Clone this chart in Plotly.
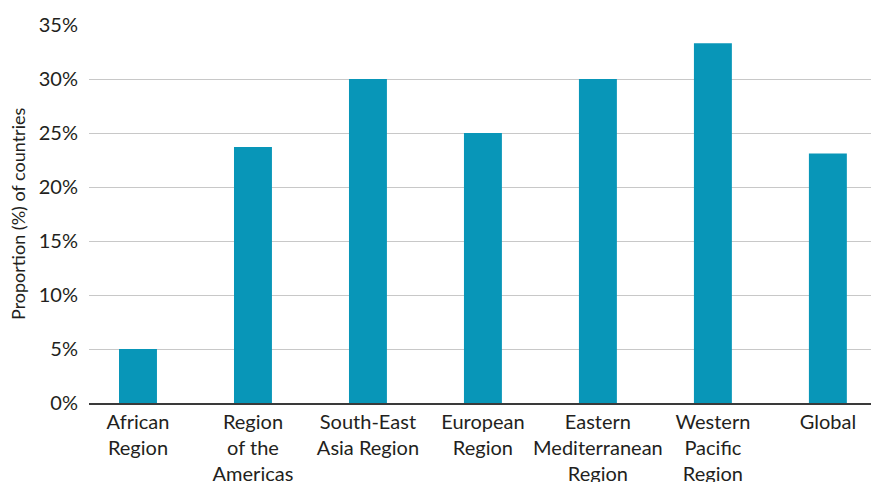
import plotly.graph_objects as go

# Regions and share of countries (%)
regions = [
    "African<br>Region",
    "Region<br>of the<br>Americas",
    "South-East<br>Asia Region",
    "European<br>Region",
    "Eastern<br>Mediterranean<br>Region",
    "Western<br>Pacific<br>Region",
    "Global",
]
proportion = [5.0, 23.7, 30.0, 25.0, 30.0, 33.3, 23.1]
y_ticks = [0, 5, 10, 15, 20, 25, 30, 35]

FONT = "Lato, Open Sans, sans-serif"
TEXT = "#231f20"
SIZE = 20

fig = go.Figure(
    go.Bar(
        x=list(range(len(regions))),
        y=proportion,
        width=0.33,
        marker=dict(color="#0896b8", line=dict(width=0)),
        hoverinfo="skip",
    )
)

fig.update_layout(
    width=872,
    height=482,
    margin=dict(l=89, r=1, t=25, b=79),
    paper_bgcolor="white",
    plot_bgcolor="white",
    showlegend=False,
    font=dict(family=FONT, size=SIZE, color=TEXT),
    xaxis=dict(
        tickmode="array",
        tickvals=list(range(len(regions))),
        ticktext=regions,
        range=[-0.426, 6.375],
        automargin=False,
        showgrid=False,
        zeroline=False,
        showline=True,
        linecolor="#3a3a3a",
        linewidth=1.5,
        ticks="",
        tickfont=dict(family=FONT, size=SIZE, color=TEXT),
    ),
    yaxis=dict(
        range=[0, 35],
        tickmode="array",
        tickvals=y_ticks,
        ticktext=[f"{v}%" for v in y_ticks],
        automargin=False,
        showgrid=True,
        gridcolor="#c8c8c8",
        gridwidth=1,
        zeroline=False,
        showline=False,
        ticks="",
        ticklabelstandoff=10,
        tickfont=dict(family=FONT, size=SIZE, color=TEXT),
    ),
    annotations=[
        dict(
            text="Proportion (%) of countries",
            xref="paper",
            yref="paper",
            x=0,
            y=0.5,
            xshift=-71,
            xanchor="center",
            yanchor="middle",
            textangle=-90,
            showarrow=False,
            font=dict(family=FONT, size=18, color=TEXT),
        )
    ],
)

fig.write_html("out.html")
